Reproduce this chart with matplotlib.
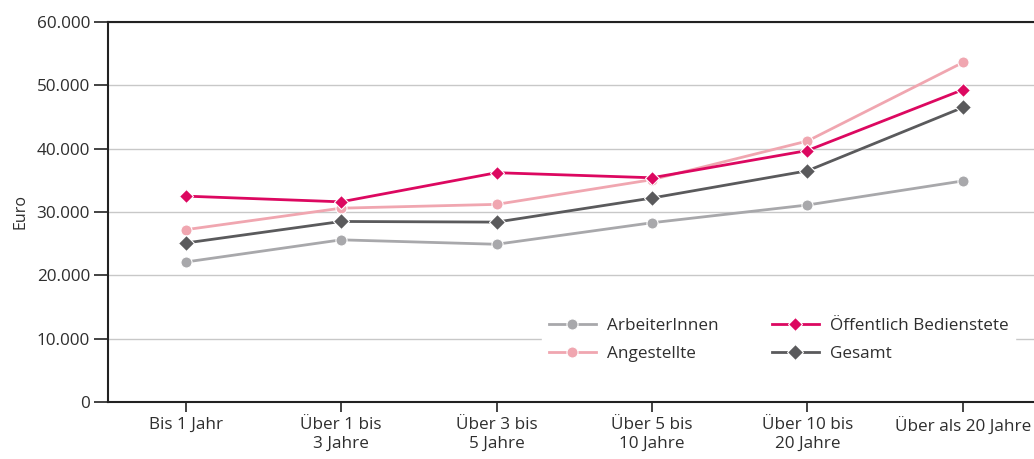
import matplotlib.pyplot as plt
import numpy as np

# Kategorien und Werte (Euro)
kategorien = ['Bis 1 Jahr', 'Über 1 bis\n3 Jahre', 'Über 3 bis\n5 Jahre',
              'Über 5 bis\n10 Jahre', 'Über 10 bis\n20 Jahre', 'Über als 20 Jahre']
arbeiter = [22100, 25600, 24900, 28300, 31100, 34900]
angestellte = [27200, 30600, 31200, 35100, 41200, 53600]
oeffentlich = [32500, 31600, 36200, 35400, 39700, 49300]
gesamt = [25100, 28500, 28400, 32200, 36500, 46500]

plt.rcParams['font.family'] = ['Open Sans', 'DejaVu Sans']
textfarbe = '#2e2e2e'

fig = plt.figure(figsize=(10.34, 4.59), dpi=100)
ax = fig.add_axes([0.1044, 0.1242, 0.902, 0.828])
x = np.arange(len(kategorien))

ax.plot(x, arbeiter, color='#a8a8ab', lw=2, marker='o', ms=8, mec='white', mew=0.8, label='ArbeiterInnen')
ax.plot(x, angestellte, color='#f0a6b0', lw=2, marker='o', ms=8, mec='white', mew=0.8, label='Angestellte')
ax.plot(x, oeffentlich, color='#dc0860', lw=2, marker='D', ms=7, mec='white', mew=0.8, label='Öffentlich Bedienstete')
ax.plot(x, gesamt, color='#5a5a5c', lw=2, marker='D', ms=8, mec='white', mew=0.8, label='Gesamt')

ax.set_xlim(-0.5, 5.5)
ax.set_ylim(0, 60000)
ax.set_yticks(np.arange(0, 60001, 10000))
ax.set_yticklabels(['0', '10.000', '20.000', '30.000', '40.000', '50.000', '60.000'])
ax.set_xticks(x)
ax.set_xticklabels(kategorien, linespacing=1.25)
ax.yaxis.grid(True, color='#c8c8c8', lw=1)
ax.set_axisbelow(True)

for s in ['left', 'bottom', 'top']:
    ax.spines[s].set_color('#222222')
    ax.spines[s].set_linewidth(1.5)
ax.spines['right'].set_visible(False)
ax.tick_params(axis='y', length=10, width=1.2, color='#222222', labelsize=12.3, labelcolor=textfarbe, pad=3)
ax.tick_params(axis='x', length=7, width=1.2, color='#222222', labelsize=12.3, labelcolor=textfarbe, pad=4)
ax.set_ylabel('Euro', fontsize=11.5, color=textfarbe, labelpad=6)

leg = ax.legend(ncol=2, loc='center', bbox_to_anchor=(0.753, 0.2595), bbox_transform=fig.transFigure,
                frameon=True, framealpha=1, edgecolor='white', fancybox=False,
                fontsize=12.3, handlelength=2.75, handletextpad=0.65, columnspacing=3.1, labelspacing=0.72)
for t in leg.get_texts():
    t.set_color(textfarbe)

plt.savefig('out.png', dpi=100)
plt.close()
